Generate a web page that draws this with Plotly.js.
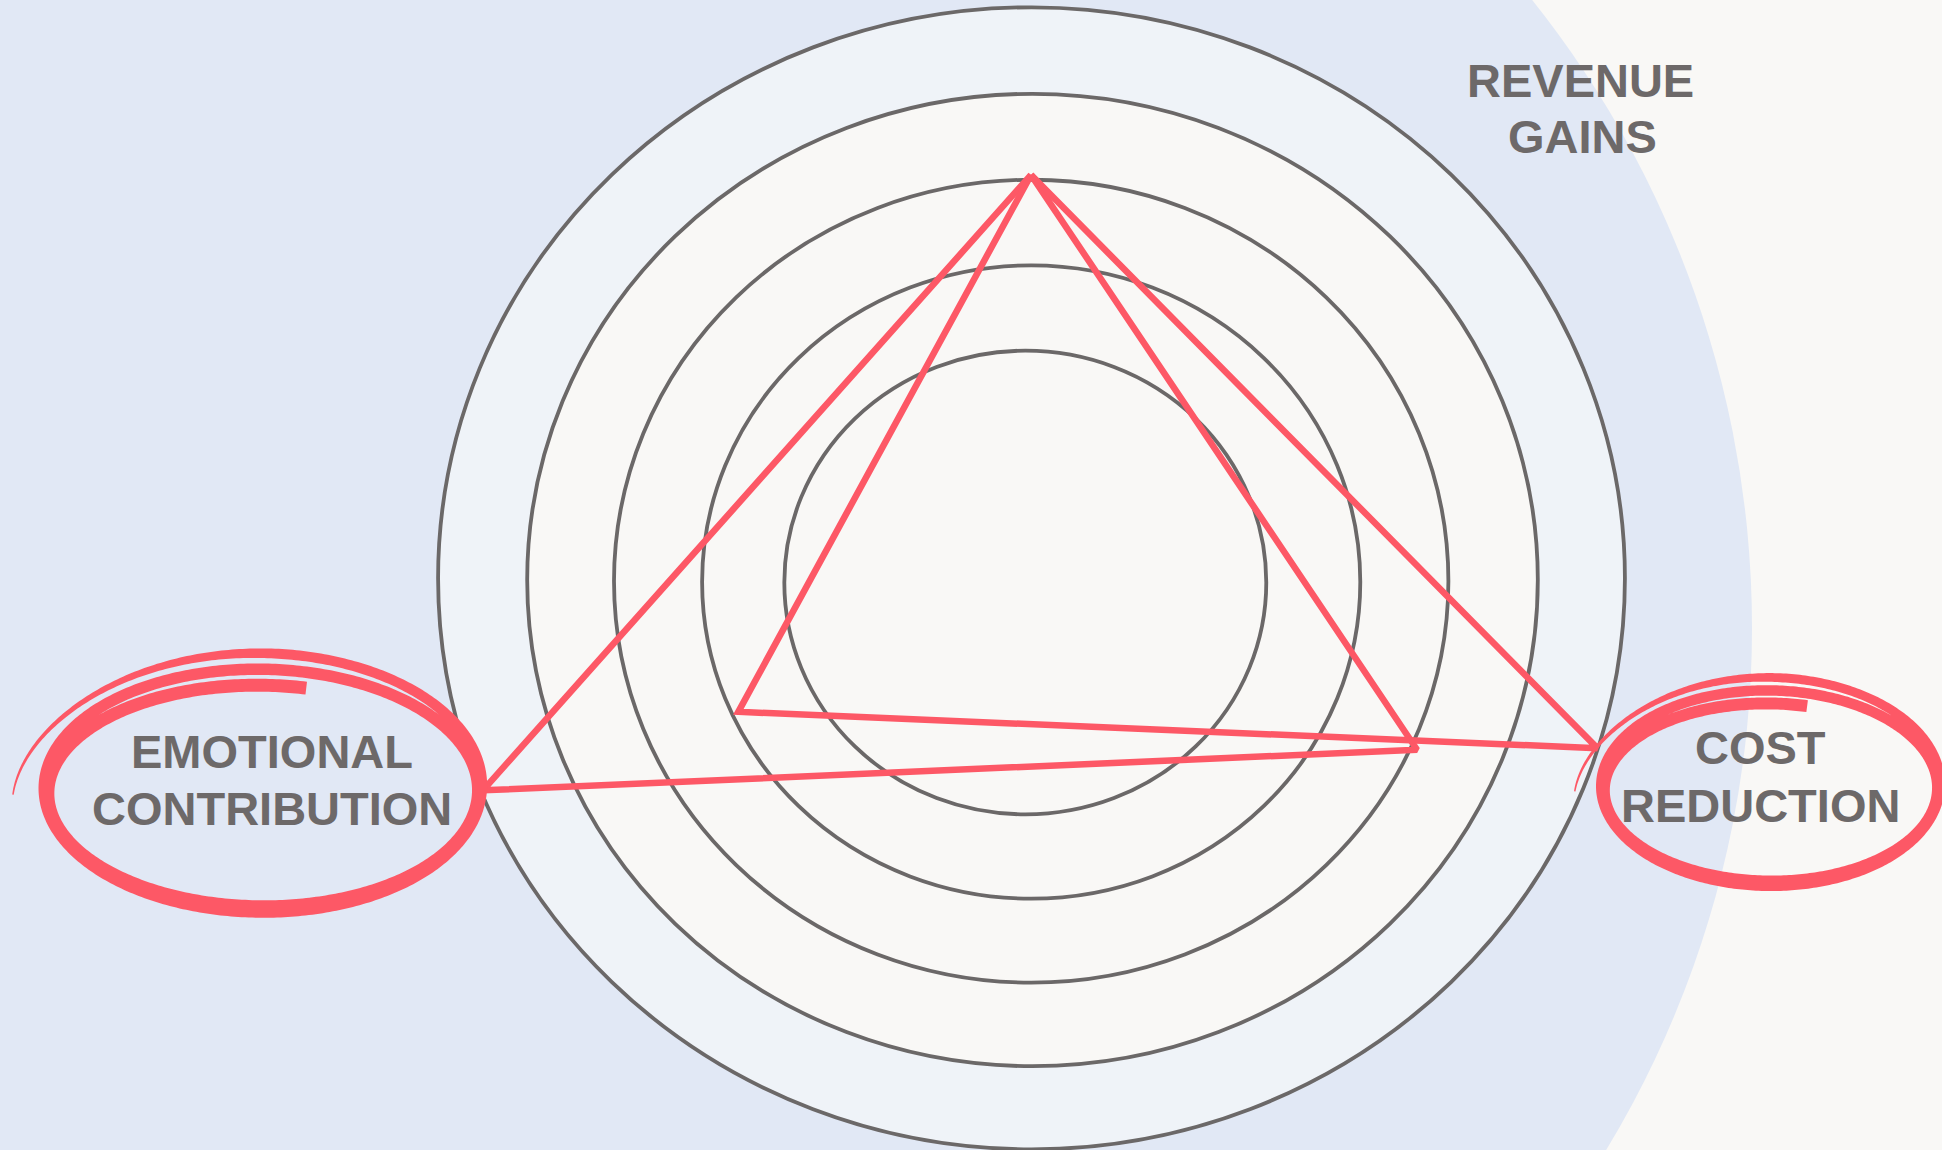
<!DOCTYPE html>
<html>
<head>
<meta charset="utf-8">
<script src="https://cdn.plot.ly/plotly-3.0.1.min.js"></script>
<style>
html,body{margin:0;padding:0;background:#f9f8f6;overflow:hidden;}
#chart{width:1942px;height:1150px;}
</style>
</head>
<body>
<div id="chart"></div>
<script>
// ---------------- data ----------------
const dimensions   = ['REVENUE GAINS', 'COST REDUCTION', 'EMOTIONAL CONTRIBUTION'];
const labelLines   = [['REVENUE', 'GAINS'], ['COST', 'REDUCTION'], ['EMOTIONAL', 'CONTRIBUTION']];
const ringLevels   = [1, 2, 3, 4, 5];
const seriesNames  = ['Profile A', 'Profile B'];
// scores on the ring scale (order: revenue, cost, emotional)
const scoresA      = [3.05, 3.08, 4.96];
const scoresB      = [3.05, 4.99, 1.93];
// hand-drawn spoke directions (degrees) for each series
const spokeAnglesA = [90, 335.5, 201.7];
const spokeAnglesB = [90, 342.9, 205.0];

// ---------------- geometry / styling ----------------
const W = 1942, H = 1150;
const CX = 1031, CY = 580.5;          // centre of the rings (px)
const SX = 88.11, SY = 84.78;         // px per ring step
const LEVEL_OFFSET = 1.735;           // radius of "level 0" in ring steps
// small hand-drawn drift of each ring's centre (px), innermost first
const ringDriftX = [-5.7, 0.2, 0.2, 1.5, 0.5];
const ringDriftY = [2.0, 1.5, 0.7, -0.5, -2.2];
const RED = '#fd5866', GRAY = '#6b6868', TEXT = '#6d6969';
const BLUE_BG = '#e1e8f5', PAPER = '#f9f8f6', OUTER_FILL = '#eff3f8';

function radius(level) { return level + LEVEL_OFFSET; }

function closedPolygon(scores, angles) {
  const xs = [], ys = [];
  scores.forEach((s, i) => {
    const a = angles[i] * Math.PI / 180;
    xs.push(radius(s) * Math.cos(a));
    ys.push(radius(s) * Math.sin(a));
  });
  xs.push(xs[0]); ys.push(ys[0]);
  return {x: xs, y: ys};
}

// brush-stroke spiral (decorative scribble) built as a filled ribbon
function ribbon(g) {
  const N = 900, pts = [], ws = [];
  for (let i = 0; i <= N; i++) {
    const s = i / N;
    const th = g.th0 + (g.th1 - g.th0) * s;
    const t = (g.th0 - th) / 360;
    const rx = g.rx - g.drx * t + g.flare * Math.pow(Math.max(0, 1 - t / 0.22), 2);
    const ry = g.ry - g.dry * t;
    const cy = g.cy + g.dcy * t;
    const a = th * Math.PI / 180;
    pts.push([g.cx + rx * Math.cos(a), cy - ry * Math.sin(a)]);
    let w = g.w0 + (g.w1 - g.w0) * Math.min(1, s / 0.12);
    w += (g.w2 - g.w1) * Math.max(0, (s - 0.12) / 0.88);
    ws.push(w);
  }
  const L = [], R = [];
  for (let i = 0; i <= N; i++) {
    const p0 = pts[Math.max(i - 1, 0)], p1 = pts[Math.min(i + 1, N)];
    const dx = p1[0] - p0[0], dy = p1[1] - p0[1];
    const len = Math.hypot(dx, dy) || 1;
    const nx = -dy / len, ny = dx / len, h = ws[i] / 2;
    L.push([pts[i][0] + nx * h, pts[i][1] + ny * h]);
    R.push([pts[i][0] - nx * h, pts[i][1] - ny * h]);
  }
  const poly = L.concat(R.reverse());
  poly.push(poly[0]);
  return {x: poly.map(p => p[0]), y: poly.map(p => p[1])};
}

const scribbleLeft  = {cx: 262,  cy: 783, rx: 222, ry: 134, drx: 4, dry: 11, dcy: 5, flare: 28, th0: 185, th1: -642, w0: 1.5, w1: 10, w2: 13};
const scribbleRight = {cx: 1770, cy: 782, rx: 172, ry: 108, drx: 3, dry: 9,  dcy: 4, flare: 24, th0: 185, th1: -643, w0: 1.5, w1: 9,  w2: 12};

// label placement (px): centre x, and vertical middle of each line
const labelPlace = [
  {x: [1580, 1582], y: [80, 136]},
  {x: [1760, 1760], y: [747, 805]},
  {x: [272, 272],   y: [751, 808]}
];

// ---------------- traces ----------------
const traces = [];
[[scoresA, spokeAnglesA], [scoresB, spokeAnglesB]].forEach((sa, k) => {
  const p = closedPolygon(sa[0], sa[1]);
  traces.push({
    type: 'scatter', mode: 'lines', name: seriesNames[k],
    x: p.x, y: p.y, xaxis: 'x', yaxis: 'y',
    line: {color: RED, width: 6.5},
    hoverinfo: 'skip', showlegend: false
  });
});
[scribbleLeft, scribbleRight].forEach(g => {
  const r = ribbon(g);
  traces.push({
    type: 'scatter', mode: 'none', fill: 'toself', fillcolor: RED,
    x: r.x, y: r.y, xaxis: 'x2', yaxis: 'y2',
    hoverinfo: 'skip', showlegend: false
  });
});

// ---------------- shapes ----------------
const shapes = [];
// large soft-blue disc behind everything (paper coords)
const bigDisc = {cx: 745, cy: 628, r: 1007};
shapes.push({
  type: 'circle', xref: 'paper', yref: 'paper', layer: 'below',
  x0: (bigDisc.cx - bigDisc.r) / W, x1: (bigDisc.cx + bigDisc.r) / W,
  y0: 1 - (bigDisc.cy + bigDisc.r) / H, y1: 1 - (bigDisc.cy - bigDisc.r) / H,
  fillcolor: BLUE_BG, line: {width: 0}
});
ringLevels.slice().reverse().forEach(lv => {
  const r = radius(lv);
  const i = ringLevels.indexOf(lv);
  const ox = ringDriftX[i] / SX, oy = -ringDriftY[i] / SY;
  shapes.push({
    type: 'circle', xref: 'x', yref: 'y', layer: 'below',
    x0: ox - r, x1: ox + r, y0: oy - r, y1: oy + r,
    fillcolor: lv === 5 ? OUTER_FILL : PAPER,
    line: {color: GRAY, width: 3.8}
  });
});

// ---------------- annotations ----------------
const annotations = [];
labelLines.forEach((lines, i) => {
  lines.forEach((txt, j) => {
    annotations.push({
      xref: 'x2', yref: 'y2', x: labelPlace[i].x[j], y: labelPlace[i].y[j],
      text: '<b>' + txt + '</b>', showarrow: false,
      xanchor: 'center', yanchor: 'middle',
      font: {family: 'Liberation Sans, Arial, sans-serif', size: 47, color: TEXT}
    });
  });
});

const layout = {
  width: W, height: H,
  margin: {l: 0, r: 0, t: 0, b: 0, pad: 0},
  paper_bgcolor: PAPER, plot_bgcolor: 'rgba(0,0,0,0)',
  showlegend: false, hovermode: false,
  xaxis:  {range: [-CX / SX, (W - CX) / SX], visible: false, fixedrange: true, domain: [0, 1]},
  yaxis:  {range: [-(H - CY) / SY, CY / SY], visible: false, fixedrange: true, domain: [0, 1]},
  xaxis2: {range: [0, W], visible: false, fixedrange: true, overlaying: 'x', anchor: 'y2'},
  yaxis2: {range: [H, 0], visible: false, fixedrange: true, overlaying: 'y', anchor: 'x2'},
  shapes: shapes,
  annotations: annotations
};

Plotly.newPlot('chart', traces, layout, {staticPlot: true, displayModeBar: false});
</script>
</body>
</html>
